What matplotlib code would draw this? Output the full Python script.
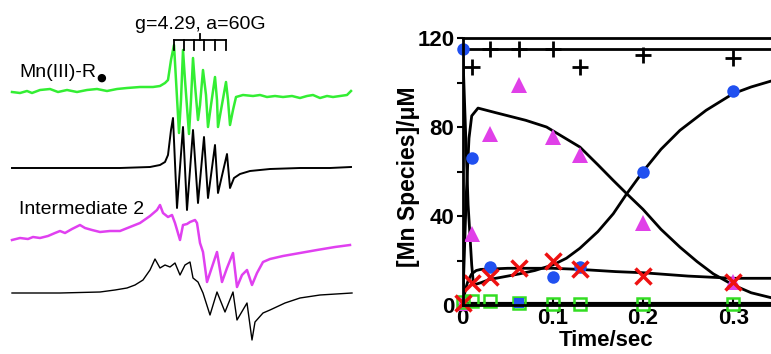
import matplotlib
matplotlib.use("Agg")
import matplotlib.pyplot as plt

plt.rcParams['font.family'] = ['Liberation Sans', 'DejaVu Sans']

# ---- 左图: EPR 谱 (横坐标为场位置, 任意单位; 纵坐标为信号幅度) ----
green_x = [12, 20, 27, 32, 40, 50, 58, 67, 77, 87, 97, 107, 117, 127, 140, 153, 160, 165, 168, 171,
           174, 176, 179, 181, 183, 185, 189, 191, 193, 195, 198, 200, 203, 206, 208, 211, 215, 217,
           218, 221, 226, 228, 230, 233, 236, 243, 253, 260, 267, 275, 283, 292, 300, 307, 313, 320,
           327, 333, 340, 347, 351]
green_amp = [2, 1, 3, 1, 4, 5, 2, 4, 2, 4, 5, 3, 5, 6, 7, 7, 8, 11, 14, 34,
             49, 14, -39, -6, 44, 14, -40, -6, 36, 9, -26, -11, 24, -1, -33, -11, 17, -6,
             -33, -16, 12, -6, -31, -16, -3, -1, -2, -1, -3, -2, -3, -2, -4, -2, -1, -4,
             -2, -3, -2, -1, 3]

sim1_x = [12, 40, 80, 120, 150, 160, 165, 168, 171, 173, 177, 183, 187, 193, 198, 204, 208, 215,
          218, 227, 230, 234, 240, 250, 270, 300, 330, 351]
sim1_amp = [0, 0, 0, 0, 1, 3, 6, 13, 38, 50, -40, 41, -42, 38, -35, 31, -30, 23,
            -25, 14, -20, -10, -6, -3, -1, 0, 0, 1]

int2_x = [12, 20, 28, 33, 40, 48, 55, 60, 65, 72, 80, 85, 92, 100, 110, 120, 130, 140, 150, 157,
          160, 163, 168, 172, 175, 180, 183, 187, 190, 195, 197, 200, 203, 207, 212, 217, 222, 227,
          233, 237, 242, 247, 252, 257, 263, 270, 283, 300, 317, 335, 350]
int2_amp = [0, 2, 1, 3, 2, 4, 7, 9, 7, 11, 15, 12, 10, 8, 9, 9, 13, 17, 24, 30,
            35, 27, 23, 25, 17, 0, 15, 16, 18, 20, 17, -3, -12, -42, -27, -12, -42, -28,
            -13, -47, -35, -30, -45, -33, -22, -19, -16, -13, -10, -7, -5]

sim2_x = [12, 60, 100, 115, 127, 135, 143, 150, 155, 160, 165, 170, 175, 180, 185, 190, 193, 198,
          203, 210, 217, 225, 233, 237, 247, 252, 255, 263, 270, 285, 300, 320, 352]
sim2_amp = [0, 0, 1, 3, 5, 8, 13, 23, 34, 25, 28, 26, 30, 18, 28, 31, 15, 11,
            0, -22, 1, -19, 1, -27, -10, -47, -29, -20, -17, -10, -5, -2, 0]

hf_lines = [174, 184, 194, 204, 215, 226]   # 六条超精细线位置

# ---- 右图: 动力学数据 ----
t_blue = [0, 0.01, 0.03, 0.1, 0.13, 0.2, 0.3]
c_blue = [115, 66, 17, 12.5, 17, 60, 96]
t_blue_sq = [0.063]
c_blue_sq = [1]
t_tri = [0, 0.01, 0.03, 0.063, 0.1, 0.13, 0.2, 0.3]
c_tri = [1, 32, 77, 99, 75.5, 67.5, 37, 10.5]
t_x = [0, 0.01, 0.03, 0.063, 0.1, 0.13, 0.2, 0.3]
c_x = [1, 10, 12.5, 16.5, 20, 16, 13, 10.5]
t_sq = [0, 0.01, 0.03, 0.063, 0.1, 0.13, 0.2, 0.3]
c_sq = [1.5, 2, 2, 1, 0.5, 0.5, 0.5, 0.5]
t_plus = [0.01, 0.03, 0.063, 0.1, 0.13, 0.2, 0.3]
c_plus = [107, 115, 115, 115, 107, 112.5, 111]

# 拟合曲线
fit_blue_t = [0, 0.003, 0.006, 0.01, 0.012, 0.02, 0.03, 0.05, 0.063, 0.08, 0.1, 0.115, 0.13, 0.15,
              0.167, 0.182, 0.2, 0.22, 0.241, 0.27, 0.3, 0.32, 0.345]
fit_blue_c = [115, 80, 45, 18, 9, 10, 11.5, 13, 14, 15.5, 18, 21, 25.5, 33,
              41, 50, 60, 70, 78.5, 87.5, 95, 98, 101]
fit_mag_t = [0, 0.002, 0.004, 0.007, 0.01, 0.017, 0.036, 0.07, 0.093, 0.13, 0.15, 0.167, 0.182,
             0.2, 0.22, 0.241, 0.26, 0.278, 0.3, 0.32, 0.345]
fit_mag_c = [0, 25, 50, 75, 85, 88.5, 86.5, 83, 80, 71, 63, 56, 50,
             43, 34, 26, 19.5, 14, 9, 5.5, 3]
fit_red_t = [0, 0.003, 0.006, 0.01, 0.015, 0.02, 0.05, 0.1, 0.13, 0.17, 0.2, 0.25, 0.3, 0.345]
fit_red_c = [0, 7, 11, 14, 15.5, 16, 16.5, 16.5, 16, 15, 14.5, 13, 12, 12]
fit_sq_t = [0, 0.345]
fit_sq_c = [0.4, 0.4]
fit_tot_t = [0, 0.345]
fit_tot_c = [115, 115]


fig = plt.figure(figsize=(7.71, 3.54), dpi=100)

# 左图
ax0 = fig.add_axes([0, 0, 380 / 771, 1])
ax0.set_xlim(0, 380)
ax0.set_ylim(-354, 0)
ax0.axis("off")

ax0.plot(green_x, [a - 94 for a in green_amp], color="#33ee33", lw=1.8)
ax0.plot(sim1_x, [a - 168 for a in sim1_amp], color="black", lw=1.4)
ax0.plot(int2_x, [a - 240 for a in int2_amp], color="#e040f0", lw=1.8)
ax0.plot(sim2_x, [a - 293 for a in sim2_amp], color="black", lw=1.0)

# 超精细梳子
ax0.plot([hf_lines[0], hf_lines[-1]], [-40, -40], color="black", lw=1.3)
for h in hf_lines:
    ax0.plot([h, h], [-40, -50], color="black", lw=1.3)
mid = (hf_lines[0] + hf_lines[-1]) / 2
ax0.plot([mid, mid], [-40, -34], color="black", lw=1.3)
ax0.text(mid, -29, "g=4.29, a=60G", ha="center", va="baseline", fontsize=14)

t1 = ax0.text(19, -77, "Mn(III)-R", ha="left", va="baseline", fontsize=14)
ax0.annotate("\u25CF", xy=(1, 0), xycoords=t1, xytext=(0.5, -1), textcoords="offset points",
             ha="left", va="bottom", fontsize=8, family="DejaVu Sans")
ax0.text(19, -214, "Intermediate 2", ha="left", va="baseline", fontsize=14)

# 右图
ax = fig.add_axes([462.7 / 771, 49 / 354, 1 - 462.7 / 771, (305 - 38) / 354])
ax.set_xlim(0, 0.342)
ax.set_ylim(0, 120)

ax.plot(fit_tot_t, fit_tot_c, color="black", lw=2, clip_on=False)
ax.plot(fit_blue_t, fit_blue_c, color="black", lw=2)
ax.plot(fit_mag_t, fit_mag_c, color="black", lw=2)
ax.plot(fit_red_t, fit_red_c, color="black", lw=2)
ax.plot(fit_sq_t, fit_sq_c, color="black", lw=3, clip_on=False)

ax.plot(t_plus, c_plus, "+", color="black", ms=11, mew=2, clip_on=False)
ax.plot(t_tri, c_tri, "^", color="#e040e8", ms=11, mew=0, clip_on=False)
ax.plot(t_blue, c_blue, "o", color="#2050f0", ms=9, mew=0, clip_on=False)
ax.plot(t_sq, c_sq, "s", mfc="none", mec="#33dd22", ms=9, mew=1.8, clip_on=False)
ax.plot(t_blue_sq, c_blue_sq, "s", color="#2050f0", ms=6.5, mew=0, clip_on=False)
ax.plot(t_x, c_x, "x", color="#ee1111", ms=11, mew=2.5, clip_on=False)

for s in ["left", "top", "bottom"]:
    ax.spines[s].set_linewidth(2)
ax.spines["right"].set_visible(False)

ax.set_yticks([0, 40, 80, 120])
ax.set_yticks([20, 60, 100], minor=True)
ax.set_xticks([0, 0.1, 0.2, 0.3])
ax.set_xticklabels(["0", "0.1", "0.2", "0.3"])
ax.tick_params(axis="y", which="both", direction="out", length=4, width=1.5,
               labelsize=16, pad=2)
ax.tick_params(axis="x", direction="in", length=4, width=1.5, labelsize=16, pad=2)
for lab in ax.get_xticklabels() + ax.get_yticklabels():
    lab.set_fontweight("bold")

ax.set_xlabel("Time/sec", fontsize=16, fontweight="bold")
ax.xaxis.set_label_coords(0.465, -0.095)
ax.set_ylabel("[Mn Species]/\u03bcM", fontsize=16.5, fontweight="bold")
ax.yaxis.set_label_coords(-0.14, 0.48)

fig.savefig("out.png", dpi=100)
